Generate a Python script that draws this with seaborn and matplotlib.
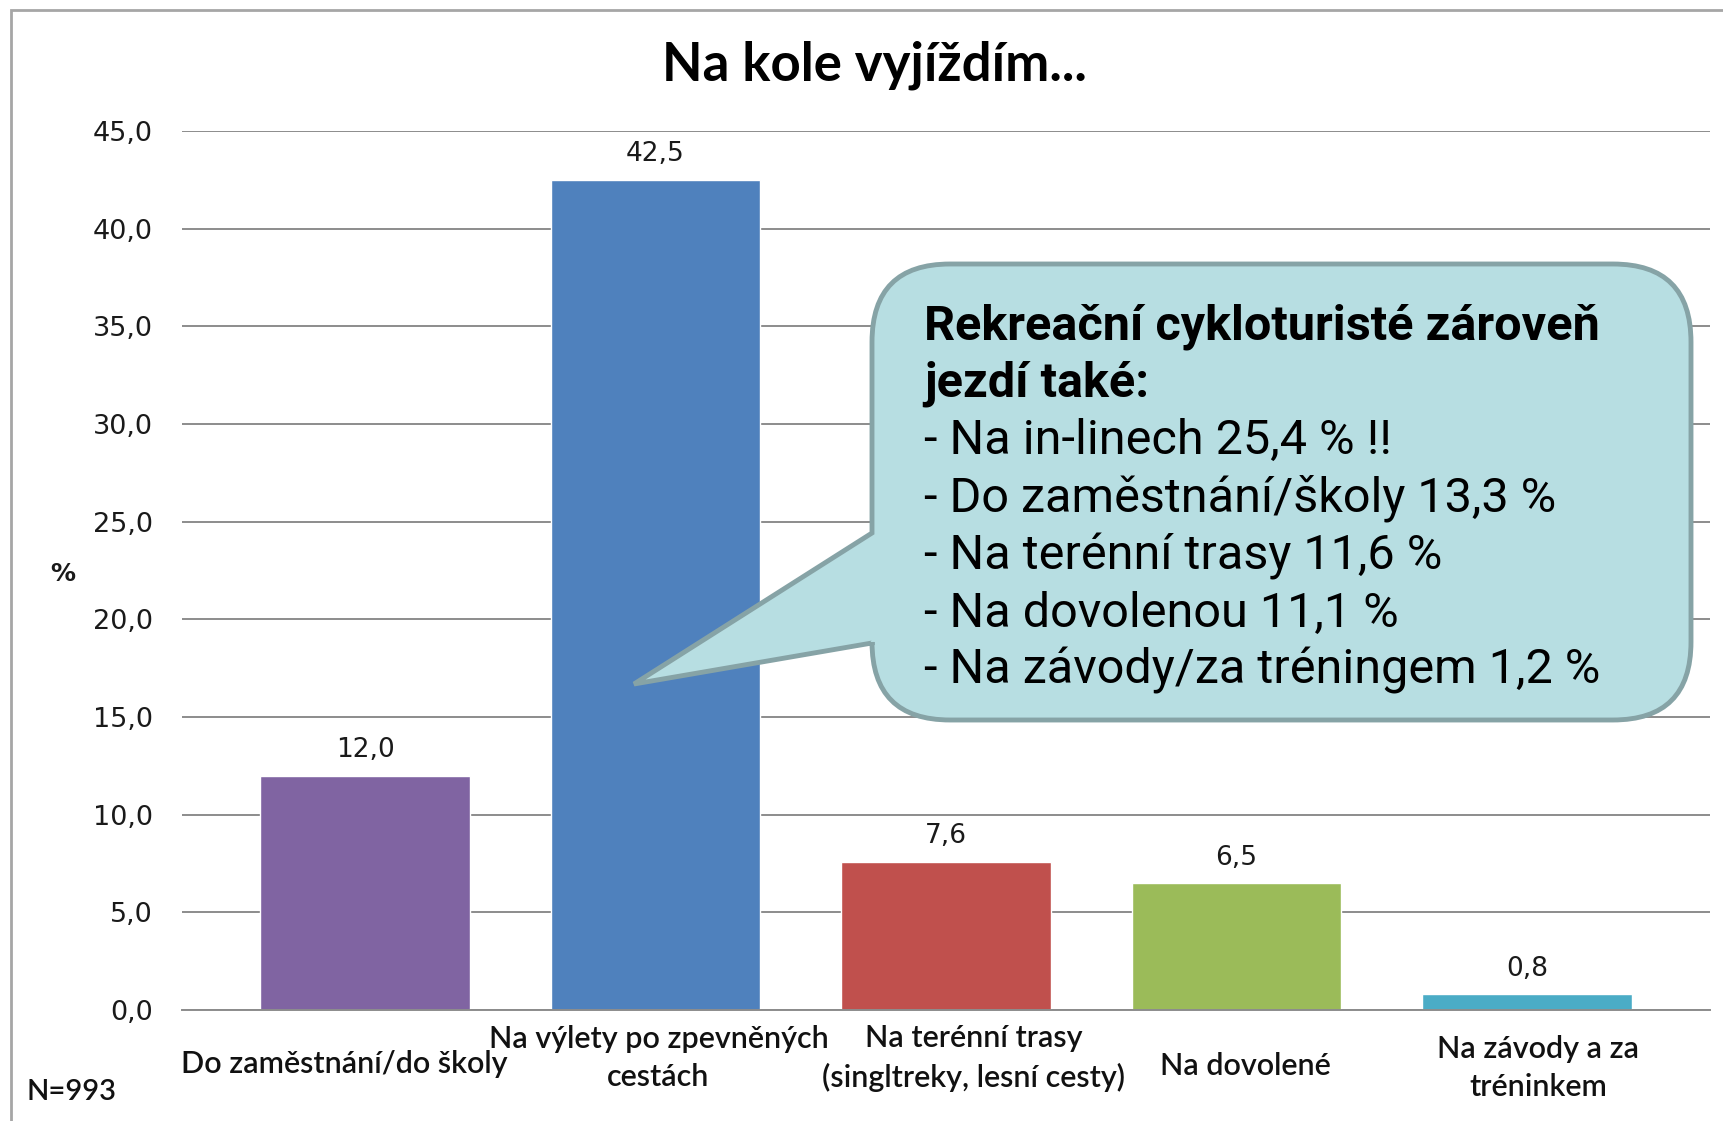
import numpy as np
import pandas as pd
import seaborn as sns
import matplotlib.pyplot as plt
from matplotlib.path import Path
from matplotlib.patches import PathPatch, Rectangle

categories = ['Do zaměstnání/do školy', 'Na výlety po zpevněných\ncestách',
              'Na terénní trasy\n(singltreky, lesní cesty)', 'Na dovolené',
              'Na závody a za\ntréninkem']
values = [12.0, 42.5, 7.6, 6.5, 0.8]
colors = ['#8064a2', '#4f81bd', '#c0504d', '#9bbb59', '#4bacc6']
yticks = [0, 5, 10, 15, 20, 25, 30, 35, 40, 45]
# placement of each category label: vertical (pixels from top), horizontal shift (categories)
label_y = [1064, 1058, 1058, 1066, 1068]
label_dx = [-0.072, 0.01, 0.095, 0.03, 0.038]

callout_bold = ['Rekreační cykloturisté zároveň', 'jezdí také:']
callout_lines = ['- Na in-linech 25,4 % !!', '- Do zaměstnání/školy 13,3 %',
                 '- Na terénní trasy 11,6 %', '- Na dovolenou 11,1 %',
                 '- Na závody/za tréningem 1,2 %']

W, H = 1724, 1121
AX_BOTTOM, AX_TOP = 1010, 131
sns.set_style('white')
plt.rcParams['font.family'] = ['DejaVu Sans']
lato = ['Lato', 'DejaVu Sans']

fig = plt.figure(figsize=(W / 100, H / 100), dpi=100)
ax = fig.add_axes([182 / W, (H - AX_BOTTOM) / H, (1710 - 182) / W, (AX_BOTTOM - AX_TOP) / H])

df = pd.DataFrame({'cat': categories, 'val': values})
sns.barplot(data=df, x='cat', y='val', hue='cat', palette=colors, width=0.72,
            legend=False, ax=ax, saturation=1)

ax.set_ylim(0, 45)
ax.set_xlim(-0.63, 4.63)
ax.set_yticks(yticks)
ax.set_yticklabels([f'{t:.1f}'.replace('.', ',') for t in yticks], fontsize=19.5, color='#1a1a1a')
ax.yaxis.grid(True, color='#8c8c8c', linewidth=1.4)
ax.set_axisbelow(True)
ax.tick_params(axis='y', length=0, pad=21)
ax.tick_params(axis='x', length=0)
ax.set_xticklabels([])
ax.set_xlabel('')
ax.set_ylabel('')
for s in ['top', 'right', 'left']:
    ax.spines[s].set_visible(False)
ax.spines['bottom'].set_color('#8c8c8c')
ax.spines['bottom'].set_linewidth(1.4)

for cont in ax.containers:
    ax.bar_label(cont, labels=[f'{v:.1f}'.replace('.', ',') for v in cont.datavalues],
                 padding=9, fontsize=19, color='#1a1a1a')

# category labels under the bars
for i, (lab, yy, dx) in enumerate(zip(categories, label_y, label_dx)):
    ay = (AX_BOTTOM - yy) / (AX_BOTTOM - AX_TOP)
    ax.text(i + dx, ay, lab, transform=ax.get_xaxis_transform(), clip_on=False,
            ha='center', va='center', fontsize=22, family=lato, fontweight='semibold',
            linespacing=1.45, color='#111111')

fig.text(874 / W, 1 - 65 / H, 'Na kole vyjíždím...', ha='center', va='center',
         fontsize=38, fontweight='bold', family=lato, color='black')
fig.text(63 / W, 1 - 574 / H, '%', ha='center', va='center', fontsize=18,
         fontweight='semibold', color='#1a1a1a')
fig.text(27 / W, 1 - 1092 / H, 'N=993', ha='left', va='center', fontsize=21,
         family=lato, fontweight='semibold', color='#111111')

# outer frame
fig.add_artist(Rectangle((11 / W, -0.1), 1.2, 1 - 10 / H + 0.1, transform=fig.transFigure,
                         fill=False, edgecolor='#a6a6a6', linewidth=2))

# callout bubble with tail
x0, x1, y0, y1, r = 872, 1691, 264, 720, 78
tip = (634, 684)
b_top, b_bot = 533, 643
pts = [
    ((x0, y0 + r), Path.MOVETO),
    ((x0, y0), Path.CURVE3), ((x0 + r, y0), Path.CURVE3),
    ((x1 - r, y0), Path.LINETO),
    ((x1, y0), Path.CURVE3), ((x1, y0 + r), Path.CURVE3),
    ((x1, y1 - r), Path.LINETO),
    ((x1, y1), Path.CURVE3), ((x1 - r, y1), Path.CURVE3),
    ((x0 + r, y1), Path.LINETO),
    ((x0, y1), Path.CURVE3), ((x0, y1 - r), Path.CURVE3),
    ((x0, b_bot), Path.LINETO),
    (tip, Path.LINETO),
    ((x0, b_top), Path.LINETO),
    ((x0, y0 + r), Path.CLOSEPOLY),
]
verts = [(px / W, 1 - py / H) for (px, py), _ in pts]
codes = [c for _, c in pts]
fig.add_artist(PathPatch(Path(verts, codes), transform=fig.transFigure,
                         facecolor='#b7dee2', edgecolor='#86a3a6', linewidth=3.5,
                         zorder=5))

callout_font = ['Roboto', 'DejaVu Sans']
for i, line in enumerate(callout_bold + callout_lines):
    yc = 322 + i * 57.5
    fig.text(924 / W, 1 - (yc + 17) / H, line, ha='left', va='baseline',
             fontsize=35, family=callout_font, color='black',
             fontweight='bold' if i < len(callout_bold) else 'normal', zorder=6)

fig.savefig('out.png', dpi=100)
